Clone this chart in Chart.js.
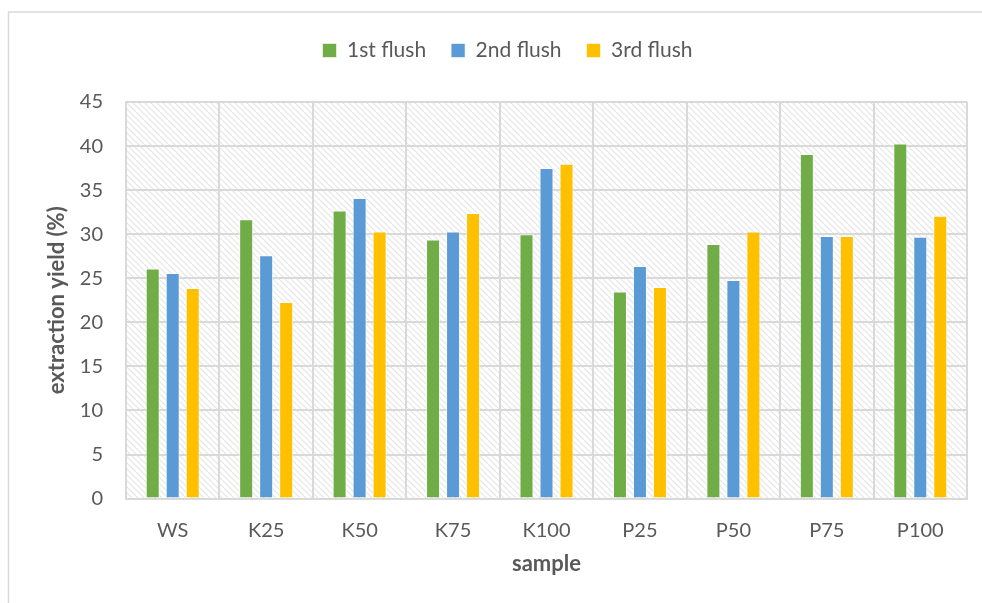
<!DOCTYPE html>
<html>
<head>
<meta charset="utf-8">
<script src="https://cdn.jsdelivr.net/npm/chart.js@4"></script>
<style>
html,body{margin:0;padding:0;background:#fff;}
#wrap{position:absolute;left:0;top:0;width:982px;height:603px;}
</style>
</head>
<body>
<div id="wrap"><canvas id="grafico" width="982" height="603"></canvas></div>
<script>
const amostras=["WS","K25","K50","K75","K100","P25","P50","P75","P100"];
const flush1=[26.1,31.7,32.7,29.4,30.0,23.5,28.9,39.1,40.3];
const flush2=[25.6,27.6,34.1,30.3,37.5,26.4,24.8,29.8,29.7];
const flush3=[23.9,22.3,30.3,32.4,38.0,24.0,30.3,29.8,32.1];
const nomesSeries=["1st flush","2nd flush","3rd flush"];
const coresSeries=["#70AD47","#5B9BD5","#FFC000"];

const fonte="Lato, 'Open Sans', sans-serif";
const corTexto="#595959";
const corGrade="#d9d9d9";

///////////////////////////////////////////////////////////////

function criarHachura(){
    const c=document.createElement("canvas");
    c.width=6;
    c.height=6;
    const g=c.getContext("2d");
    g.fillStyle="#ffffff";
    g.fillRect(0,0,6,6);
    g.strokeStyle="#e6e6e6";
    g.lineWidth=1.2;
    g.beginPath();
    g.moveTo(-1,-1);g.lineTo(7,7);
    g.moveTo(-1,5);g.lineTo(1,7);
    g.moveTo(5,-1);g.lineTo(7,1);
    g.stroke();
    return c;
}

const fundoHachurado={
    id:"fundoHachurado",
    beforeInit(chart){
        // espaço extra abaixo da legenda
        if(chart.legend){
            const fitOriginal=chart.legend.fit;
            chart.legend.fit=function(){
                fitOriginal.call(this);
                this.height+=31;
            };
        }
    },
    afterLayout(chart){
        // legenda um pouco à direita, como no original
        if(chart.legend){
            chart.legend.left+=20;
            chart.legend.right+=20;
        }
    },
    beforeDraw(chart){
        const {ctx,chartArea}=chart;
        ctx.save();
        // moldura externa (só topo e esquerda aparecem)
        ctx.strokeStyle="#d9d9d9";
        ctx.lineWidth=1.5;
        ctx.beginPath();
        ctx.moveTo(8.5,603);
        ctx.lineTo(8.5,12);
        ctx.lineTo(982,12);
        ctx.stroke();
        ctx.fillStyle=ctx.createPattern(criarHachura(),"repeat");
        ctx.fillRect(chartArea.left,chartArea.top,chartArea.right-chartArea.left,chartArea.bottom-chartArea.top);
        ctx.restore();
    }
};

///////////////////////////////////////////////////////////////

const ctx=document.getElementById("grafico").getContext("2d");

new Chart(ctx,{
    type:"bar",
    data:{
        labels:amostras,
        datasets:[flush1,flush2,flush3].map((d,i)=>({
            label:nomesSeries[i],
            data:d,
            backgroundColor:coresSeries[i],
            borderColor:"rgba(255,255,255,0.6)",
            borderWidth:1,
            categoryPercentage:0.642,
            barPercentage:0.7
        }))
    },
    options:{
        responsive:false,
        animation:false,
        layout:{
            padding:{left:8,right:15,top:15,bottom:26}
        },
        plugins:{
            legend:{
                position:"top",
                labels:{
                    boxWidth:14,
                    boxHeight:14,
                    padding:25,
                    color:corTexto,
                    font:{family:fonte,size:21}
                }
            },
            tooltip:{enabled:false}
        },
        scales:{
            x:{
                grid:{color:corGrade,lineWidth:2,drawTicks:false},
                border:{color:corGrade,width:2},
                ticks:{color:corTexto,padding:20,font:{family:fonte,size:20}},
                title:{
                    display:true,
                    text:"sample",
                    color:corTexto,
                    padding:{top:-12,bottom:0},
                    font:{family:fonte,size:22,weight:"bold"}
                }
            },
            y:{
                min:0,
                max:45,
                grid:{color:corGrade,lineWidth:2,drawTicks:false},
                border:{color:corGrade,width:2},
                ticks:{stepSize:5,color:corTexto,padding:23,font:{family:fonte,size:20}},
                title:{
                    display:true,
                    text:"extraction yield (%)",
                    color:corTexto,
                    padding:{top:36,bottom:0},
                    font:{family:fonte,size:22,weight:"bold"}
                },
                afterFit(scale){
                    scale.width=118;
                }
            }
        }
    },
    plugins:[fundoHachurado]
});
</script>
</body>
</html>
